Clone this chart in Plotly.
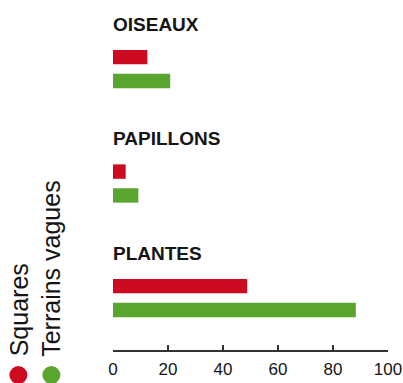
import plotly.graph_objects as go

categories = ["OISEAUX", "PAPILLONS", "PLANTES"]
series_names = ["Squares", "Terrains vagues"]
squares = [12.5, 4.6, 48.8]
terrains = [20.8, 9.2, 88.3]
tick_vals = [0, 20, 40, 60, 80, 100]

RED = "#cc0a20"
GREEN = "#5aa52d"
TXT = "#151515"

fig = go.Figure()
fig.add_trace(go.Bar(name=series_names[0], y=categories, x=squares, orientation="h",
                     marker=dict(color=RED, line=dict(width=0)), showlegend=False))
fig.add_trace(go.Bar(name=series_names[1], y=categories, x=terrains, orientation="h",
                     marker=dict(color=GREEN, line=dict(width=0)), showlegend=False))

annotations = []
for c in categories:
    annotations.append(dict(x=0, y=c, xref="x", yref="y", text="<b>%s</b>" % c,
                            showarrow=False, xanchor="left", yanchor="middle", yshift=45,
                            xshift=-2, font=dict(family="Liberation Sans, Arial", size=19, color=TXT)))

# rotated legend
leg_x = [-0.344, -0.224]
for name, lx in zip(series_names, leg_x):
    annotations.append(dict(x=lx, y=-0.024, xref="paper", yref="paper", text=name,
                            textangle=-90, showarrow=False, xanchor="center", yanchor="bottom",
                            font=dict(family="Liberation Sans, Arial", size=25, color=TXT)))

shapes = []
for col, lx in zip([RED, GREEN], leg_x):
    shapes.append(dict(type="circle", xref="paper", yref="paper", xsizemode="pixel", ysizemode="pixel",
                       xanchor=lx, yanchor=-0.0714, x0=-9, x1=9, y0=-9, y1=9,
                       fillcolor=col, line=dict(width=0)))

fig.update_layout(
    width=403, height=383,
    margin=dict(l=113, r=15, t=0, b=33),
    paper_bgcolor="white", plot_bgcolor="white",
    barmode="group", bargap=0.583, bargroupgap=0.396,
    annotations=annotations, shapes=shapes,
    xaxis=dict(range=[0, 100], tickvals=tick_vals, ticks="inside", ticklen=5, tickwidth=2,
               tickcolor="#333", showline=True, linecolor="#333", linewidth=2,
               showgrid=False, zeroline=False, ticklabelstandoff=3,
               tickfont=dict(family="Liberation Sans, Arial", size=17, color=TXT), fixedrange=True),
    yaxis=dict(type="category", categoryorder="array", categoryarray=categories,
               range=[2.454, -0.603], showticklabels=False, showgrid=False, zeroline=False,
               showline=False, ticks="", fixedrange=True),
)

fig.write_html("out.html")
